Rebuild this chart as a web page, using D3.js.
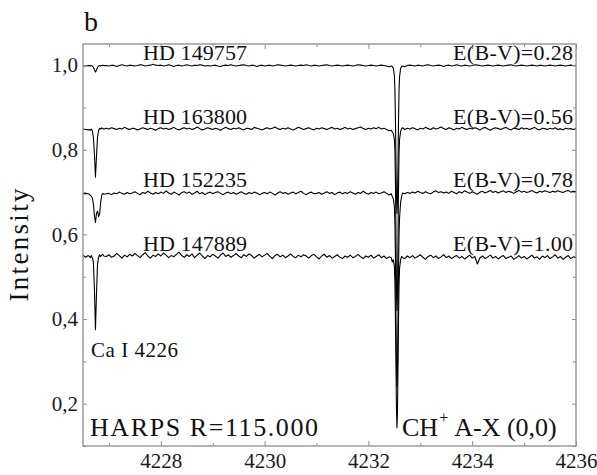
<!DOCTYPE html>
<html><head><meta charset="utf-8">
<script src="https://cdn.jsdelivr.net/npm/d3@7"></script>
<style>body{margin:0;background:#fff} svg{display:block}</style>
</head><body>
<svg id="c" width="597" height="475"></svg>
<script>
// ---- data -------------------------------------------------------------
// continuum grid: 4226.50 .. 4236.00 every 0.05 A (191 points, rows of 10 = 0.5 A)
const gridStart = 4226.5, gridStep = 0.05, gridCount = 191;
// dense samples through the Ca I 4226.7 line
const caLambda = [4226.62,4226.64,4226.66,4226.68,4226.70,4226.72,4226.74,4226.76,4226.78,4226.80,4226.82,4226.84,4226.86,4226.88,4226.90];
// dense samples through the CH+ 4232.55 line
const chLambda = [4232.44,4232.46,4232.48,4232.50,4232.51,4232.52,4232.53,4232.54,4232.55,4232.56,4232.57,4232.58,4232.59,4232.60,4232.62,4232.64,4232.66];

const stars = ["HD 149757", "HD 163800", "HD 152235", "HD 147889"];
const reddening = ["E(B-V)=0.28", "E(B-V)=0.56", "E(B-V)=0.78", "E(B-V)=1.00"];
const continuumLevels = [1.0, 0.85, 0.70, 0.55];

const hd149757 = [
0.999,0.998,0.999,null,null,null,null,null,null,0.999,
0.998,1.000,0.999,0.997,0.999,1.001,0.999,0.998,1.000,0.999,
0.998,0.999,1.001,1.000,0.998,0.999,1.000,1.002,1.000,0.999,
1.000,0.998,0.999,1.001,0.999,0.997,0.999,1.000,0.998,0.999,
1.001,0.999,0.998,1.000,0.999,1.001,1.000,0.998,0.999,0.998,
0.999,1.000,0.998,0.997,0.999,1.000,0.999,1.001,0.999,0.998,
0.999,1.000,1.001,0.999,0.998,1.000,0.999,0.997,0.999,1.000,
0.998,0.999,1.000,0.998,0.999,1.001,1.000,0.999,0.998,0.999,
1.000,0.999,0.998,0.999,1.000,0.999,1.001,0.999,0.998,1.000,
0.999,0.998,0.999,1.000,1.001,0.999,0.998,0.999,1.000,0.999,
0.998,0.999,1.000,0.999,0.998,0.999,1.001,1.000,0.999,0.998,
0.999,1.000,0.999,0.998,0.999,1.000,0.999,0.998,0.996,null,
null,null,null,null,0.996,0.999,1.000,0.999,0.998,1.000,
0.999,0.998,1.000,1.001,0.999,0.998,0.999,1.000,0.999,0.997,
0.999,1.000,0.998,0.999,1.001,0.999,0.998,1.000,0.999,0.998,
0.999,1.001,1.000,0.999,0.998,0.999,1.000,0.999,0.998,0.999,
1.000,0.999,0.998,0.999,1.000,1.001,0.999,0.998,0.999,1.000,
0.999,0.998,0.999,1.000,0.999,0.998,1.000,0.999,0.998,0.999,
1.000,0.999,0.998,0.999,1.000,0.999,0.998,0.999,1.000,0.999,
0.999];
const hd149757Ca = [0.999,0.998,0.999,0.998,0.995,0.989,0.984,0.988,0.995,0.998,0.999,0.998,0.999,1.000,0.999];
const hd149757Ch = [0.998,0.997,0.993,0.975,0.945,0.880,0.780,0.690,0.650,0.680,0.770,0.870,0.940,0.972,0.992,0.997,0.998];

const hd163800 = [
0.849,0.848,0.847,null,null,null,null,null,null,0.851,
0.849,0.852,0.850,0.848,0.851,0.849,0.853,0.850,0.848,0.851,
0.850,0.847,0.849,0.852,0.850,0.848,0.851,0.849,0.846,0.850,
0.852,0.849,0.851,0.848,0.850,0.853,0.849,0.847,0.850,0.852,
0.849,0.851,0.848,0.850,0.854,0.850,0.847,0.849,0.852,0.850,
0.848,0.851,0.849,0.846,0.850,0.853,0.850,0.848,0.851,0.849,
0.852,0.849,0.847,0.851,0.850,0.848,0.853,0.851,0.849,0.847,
0.850,0.852,0.849,0.851,0.854,0.850,0.848,0.851,0.849,0.852,
0.849,0.847,0.850,0.853,0.851,0.848,0.850,0.852,0.849,0.847,
0.851,0.849,0.852,0.850,0.848,0.851,0.853,0.849,0.851,0.848,
0.850,0.853,0.849,0.851,0.848,0.850,0.852,0.854,0.850,0.848,
0.851,0.849,0.852,0.850,0.853,0.849,0.851,0.848,0.845,null,
null,null,null,null,0.848,0.851,0.849,0.852,0.850,0.847,
0.851,0.849,0.853,0.850,0.848,0.852,0.849,0.851,0.854,0.850,
0.848,0.852,0.850,0.847,0.851,0.849,0.853,0.850,0.848,0.851,
0.849,0.852,0.850,0.847,0.851,0.853,0.849,0.846,0.850,0.852,
0.850,0.848,0.851,0.853,0.849,0.847,0.851,0.850,0.848,0.852,
0.849,0.851,0.848,0.850,0.853,0.849,0.847,0.851,0.850,0.848,
0.851,0.849,0.852,0.848,0.850,0.847,0.851,0.849,0.850,0.848,
0.850];
const hd163800Ca = [0.848,0.846,0.849,0.845,0.830,0.790,0.735,0.785,0.830,0.845,0.851,0.849,0.852,0.850,0.849];
const hd163800Ch = [0.846,0.842,0.838,0.825,0.800,0.730,0.610,0.470,0.420,0.460,0.590,0.710,0.790,0.825,0.843,0.850,0.852];

const hd152235 = [
0.695,0.697,0.696,null,null,null,null,null,null,0.696,
0.697,0.694,0.698,0.696,0.700,0.697,0.695,0.699,0.696,0.698,
0.701,0.697,0.694,0.699,0.697,0.702,0.698,0.695,0.699,0.696,
0.700,0.697,0.703,0.698,0.695,0.700,0.697,0.693,0.699,0.701,
0.697,0.700,0.695,0.698,0.702,0.696,0.699,0.694,0.698,0.700,
0.696,0.699,0.701,0.697,0.694,0.698,0.700,0.696,0.699,0.695,
0.698,0.701,0.697,0.695,0.699,0.696,0.700,0.698,0.694,0.697,
0.699,0.696,0.700,0.697,0.693,0.698,0.701,0.697,0.699,0.695,
0.698,0.700,0.696,0.699,0.702,0.697,0.694,0.698,0.700,0.696,
0.697,0.699,0.695,0.698,0.701,0.697,0.699,0.694,0.698,0.700,
0.696,0.699,0.697,0.701,0.698,0.695,0.699,0.697,0.702,0.698,
0.695,0.699,0.697,0.700,0.696,0.698,0.701,0.697,0.693,null,
null,null,null,null,0.696,0.699,0.697,0.700,0.698,0.702,
0.699,0.697,0.701,0.698,0.696,0.700,0.703,0.699,0.701,0.698,
0.700,0.697,0.702,0.699,0.696,0.701,0.698,0.703,0.700,0.697,
0.701,0.698,0.695,0.700,0.702,0.698,0.701,0.704,0.699,0.702,
0.698,0.701,0.703,0.699,0.702,0.700,0.697,0.701,0.704,0.700,
0.702,0.699,0.701,0.704,0.700,0.698,0.702,0.700,0.703,0.701,
0.699,0.702,0.700,0.703,0.701,0.699,0.702,0.704,0.700,0.702,
0.701];
const hd152235Ca = [0.695,0.693,0.690,0.686,0.672,0.645,0.628,0.650,0.655,0.642,0.648,0.675,0.692,0.697,0.695];
const hd152235Ch = [0.696,0.690,0.684,0.665,0.630,0.550,0.420,0.290,0.240,0.280,0.400,0.520,0.600,0.640,0.675,0.690,0.698];

const hd147889 = [
0.551,0.546,0.550,null,null,null,null,null,null,0.548,
0.552,0.546,0.549,0.555,0.550,0.544,0.551,0.547,0.553,0.549,
0.555,0.550,0.545,0.552,0.557,0.549,0.544,0.551,0.548,0.554,
0.549,0.556,0.551,0.545,0.550,0.547,0.553,0.558,0.550,0.546,
0.552,0.548,0.554,0.545,0.551,0.556,0.549,0.543,0.550,0.547,
0.553,0.549,0.544,0.551,0.556,0.548,0.552,0.546,0.550,0.555,
0.549,0.545,0.552,0.548,0.554,0.550,0.544,0.549,0.553,0.547,
0.551,0.555,0.548,0.543,0.550,0.553,0.547,0.551,0.545,0.549,
0.554,0.548,0.545,0.551,0.547,0.552,0.549,0.544,0.550,0.553,
0.547,0.542,0.549,0.553,0.546,0.550,0.544,0.548,0.552,0.546,
0.543,0.549,0.546,0.551,0.545,0.548,0.553,0.547,0.543,0.549,
0.546,0.551,0.544,0.548,0.552,0.545,0.549,0.543,0.547,null,
null,null,null,null,0.543,0.549,0.545,0.550,0.544,0.548,
0.552,0.546,0.541,0.548,0.551,0.545,0.549,0.543,0.547,0.552,
0.545,0.549,0.543,0.547,0.550,0.544,0.548,0.542,0.546,0.551,
0.544,0.548,0.530,0.545,0.549,0.543,0.547,0.551,0.544,0.548,
0.542,0.547,0.550,0.543,0.546,0.549,0.541,0.545,0.550,0.544,
0.548,0.542,0.546,0.551,0.544,0.547,0.541,0.549,0.545,0.550,
0.543,0.547,0.552,0.544,0.548,0.541,0.546,0.550,0.543,0.547,
0.545];
const hd147889Ca = [0.548,0.545,0.550,0.545,0.535,0.470,0.375,0.460,0.530,0.545,0.552,0.548,0.551,0.553,0.549];
const hd147889Ch = [0.545,0.535,0.540,0.525,0.490,0.410,0.300,0.190,0.143,0.180,0.290,0.400,0.480,0.520,0.540,0.548,0.545];

const xTicks = [4228, 4230, 4232, 4234, 4236];
const xMinorTicks = [4227, 4229, 4231, 4233, 4235];
const yTicks = [0.2, 0.4, 0.6, 0.8, 1.0];
const yTickLabels = ["0,2", "0,4", "0,6", "0,8", "1,0"];
const yMinorTicks = [0.1, 0.3, 0.5, 0.7, 0.9];

// ---- drawing ----------------------------------------------------------
const FONT = "'Liberation Serif', 'Times New Roman', serif";
const svg = d3.select("#c");
const M = {l: 83, t: 44, r: 576, b: 446};
const x = d3.scaleLinear().domain([4226.5, 4236]).range([M.l, M.r]);
const y = d3.scaleLinear().domain([0.1, 1.05]).range([M.b, M.t]);
const gridLambda = d3.range(gridCount).map(i => +(gridStart + i * gridStep).toFixed(2));

function build(cont, ca, ch) {
  const pts = [];
  cont.forEach((v, i) => { if (v !== null) pts.push([gridLambda[i], v]); });
  ca.forEach((v, i) => pts.push([caLambda[i], v]));
  ch.forEach((v, i) => pts.push([chLambda[i], v]));
  return pts.sort((a, b) => a[0] - b[0]);
}
const spectra = [
  build(hd149757, hd149757Ca, hd149757Ch),
  build(hd163800, hd163800Ca, hd163800Ch),
  build(hd152235, hd152235Ca, hd152235Ch),
  build(hd147889, hd147889Ca, hd147889Ch)
];

svg.append("clipPath").attr("id", "clip").append("rect")
  .attr("x", M.l).attr("y", M.t).attr("width", M.r - M.l).attr("height", M.b - M.t);

const line = d3.line().x(d => x(d[0])).y(d => y(d[1]));
svg.append("g").attr("clip-path", "url(#clip)")
  .selectAll("path").data(spectra).join("path")
  .attr("d", line).attr("fill", "none").attr("stroke", "#000")
  .attr("stroke-width", 1.1).attr("stroke-linejoin", "round");

// axes (ticks pointing inward)
function styleAxis(g) {
  g.select(".domain").remove();
  g.selectAll(".tick line").attr("stroke", "#8c8c8c").attr("stroke-width", 1);
  g.selectAll("text").attr("font-family", FONT).attr("font-size", 21).attr("fill", "#1a1a1a");
}
svg.append("g").attr("transform", `translate(0,${M.b})`)
  .call(d3.axisBottom(x).tickValues(xTicks).tickSize(-5).tickPadding(7).tickFormat(d3.format("d")))
  .call(styleAxis);
svg.append("g").attr("transform", `translate(0,${M.b})`)
  .call(d3.axisBottom(x).tickValues(xMinorTicks).tickSize(-3).tickFormat(""))
  .call(styleAxis);
svg.append("g").attr("transform", `translate(0,${M.t})`)
  .call(d3.axisTop(x).tickValues(xTicks).tickSize(-5).tickFormat(""))
  .call(styleAxis);
svg.append("g").attr("transform", `translate(0,${M.t})`)
  .call(d3.axisTop(x).tickValues(xMinorTicks).tickSize(-3).tickFormat(""))
  .call(styleAxis);
svg.append("g").attr("transform", `translate(${M.l},0)`)
  .call(d3.axisLeft(y).tickValues(yTicks).tickSize(-4).tickPadding(5).tickFormat((d, i) => yTickLabels[i]))
  .call(styleAxis);
svg.append("g").attr("transform", `translate(${M.l},0)`)
  .call(d3.axisLeft(y).tickValues(yMinorTicks).tickSize(-3).tickFormat(""))
  .call(styleAxis);
svg.append("g").attr("transform", `translate(${M.r},0)`)
  .call(d3.axisRight(y).tickValues(yTicks).tickSize(-4).tickFormat(""))
  .call(styleAxis);
svg.append("g").attr("transform", `translate(${M.r},0)`)
  .call(d3.axisRight(y).tickValues(yMinorTicks).tickSize(-3).tickFormat(""))
  .call(styleAxis);

svg.append("rect").attr("x", M.l).attr("y", M.t)
  .attr("width", M.r - M.l).attr("height", M.b - M.t)
  .attr("fill", "none").attr("stroke", "#8c8c8c").attr("stroke-width", 1.3);

// texts
const txt = (s, xx, yy, size, anchor) => svg.append("text").text(s)
  .attr("x", xx).attr("y", yy).attr("font-family", FONT).attr("font-size", size)
  .attr("fill", "#111").attr("text-anchor", anchor || "start");

txt("b", 84, 31, 28);
svg.append("text").text("Intensity")
  .attr("transform", "translate(28,245) rotate(-90)")
  .attr("text-anchor", "middle").attr("font-family", FONT).attr("font-size", 27)
  .attr("fill", "#111").attr("textLength", 113).attr("lengthAdjust", "spacing");

stars.forEach((s, i) => {
  txt(s, 143, y(continuumLevels[i]) - 5, 22).attr("textLength", 104).attr("lengthAdjust", "spacing");
  txt(reddening[i], 573, y(continuumLevels[i]) - 5, 22, "end").attr("textLength", 120).attr("lengthAdjust", "spacing");
});

txt("Ca I 4226", 91, 357, 21).attr("textLength", 87).attr("lengthAdjust", "spacing");
txt("HARPS R=115.000", 90, 436, 26).attr("textLength", 228).attr("lengthAdjust", "spacing");

const ch = svg.append("text").attr("x", 402).attr("y", 436)
  .attr("font-family", FONT).attr("font-size", 26).attr("fill", "#111");
ch.append("tspan").text("CH");
ch.append("tspan").text("+").attr("font-size", 16).attr("dy", -13).attr("dx", 1);
ch.append("tspan").text(" A-X (0,0)").attr("dy", 13).attr("dx", 1);
</script>
</body></html>
